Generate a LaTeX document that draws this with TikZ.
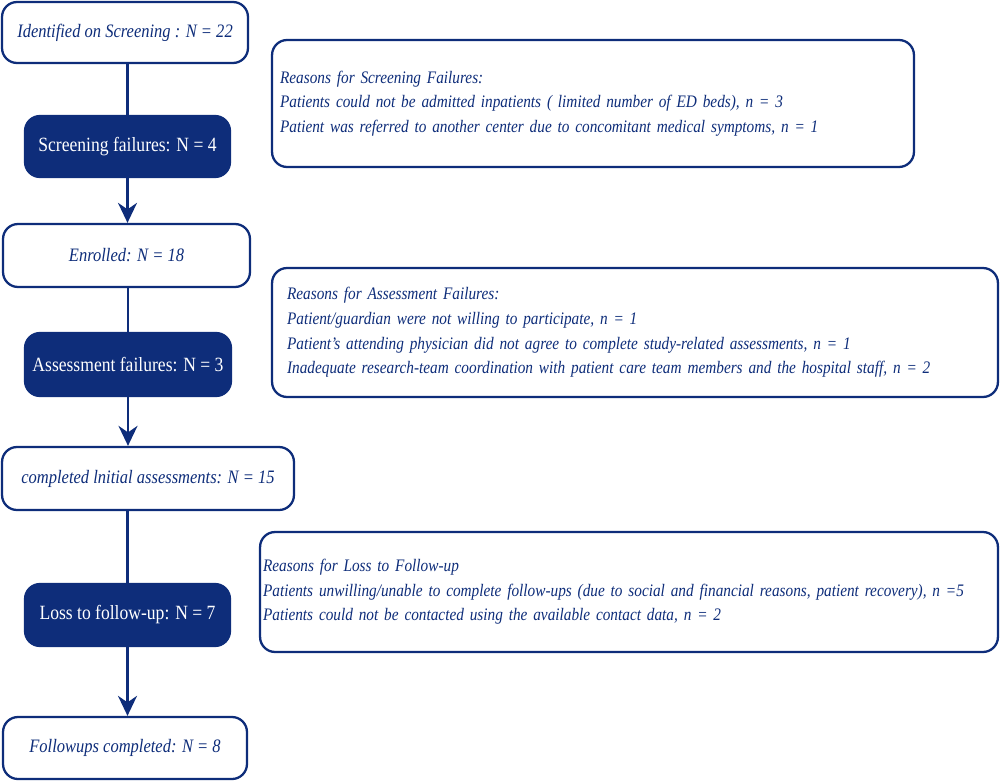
\documentclass[tikz,border=0pt]{standalone}
\usepackage{fontspec}
\setmainfont{Liberation Serif}[FakeStretch=0.87]
\usetikzlibrary{arrows.meta,positioning,calc}
\definecolor{Navy}{RGB}{14,45,122}
\tikzset{
  stagebox/.style={draw=Navy,line width=1.3pt,rounded corners=0.3cm,fill=white,text=Navy,font=\itshape\fontsize{10.8}{14}\selectfont,inner sep=0pt},
  failbox/.style={draw=Navy,line width=1.3pt,rounded corners=0.3cm,fill=Navy,text=white,font=\fontsize{11.5}{14}\selectfont,inner sep=0pt},
  reasonbox/.style={draw=Navy,line width=1.3pt,rounded corners=0.3cm,fill=white,text=Navy,font=\itshape\fontsize{10}{14}\selectfont,align=left,inner ysep=0pt},
  flowline/.style={draw=Navy,line width=1.4pt},
  flowarrow/.style={-{Stealth[length=0.4cm,width=0.38cm]},draw=Navy,line width=1.4pt}
}

\begin{document}
\begin{tikzpicture}[x=0.02cm,y=-0.02cm]
\useasboundingbox (0,0) rectangle (1000,781);

\node[stagebox,minimum width=4.92cm,minimum height=1.22cm] (ident) at (125,32.5) {Identified on Screening : N = 22};
\node[failbox,minimum width=4.1cm,minimum height=1.22cm] (sfail) at (127.5,146.5) {Screening failures: N = 4};
\node[stagebox,minimum width=4.94cm,minimum height=1.26cm] (enrolled) at (126.5,255.5) {Enrolled: N = 18};
\node[failbox,minimum width=4.12cm,minimum height=1.26cm] (afail) at (128,364.5) {Assessment failures: N = 3};
\node[stagebox,minimum width=5.84cm,minimum height=1.26cm] (completed) at (148,478.5) {completed lnitial assessments: N = 15};
\node[failbox,minimum width=4.1cm,minimum height=1.24cm] (lfail) at (127.5,615) {Loss to follow-up: N = 7};
\node[stagebox,minimum width=4.88cm,minimum height=1.24cm] (followed) at (125,748) {Followups completed: N = 8};

\draw[flowline](sfail.north |- ident.south)--(sfail.north);\draw[flowarrow](sfail.south)--(sfail.south |- enrolled.north);
\draw[flowline](afail.north |- enrolled.south)--(afail.north);\draw[flowarrow](afail.south)--(afail.south |- completed.north);
\draw[flowline](lfail.north |- completed.south)--(lfail.north);\draw[flowarrow](lfail.south)--(lfail.south |- followed.north);

\node[reasonbox,minimum width=12.84cm,minimum height=2.54cm,text width=12.52cm,inner xsep=0.16cm] (sreasons) at (593,103.5) {Reasons for Screening Failures:\\
Patients could not be admitted inpatients ( limited number of ED beds), n = 3\\
Patient was referred to another center due to concomitant medical symptoms, n = 1};
\node[reasonbox,minimum width=14.52cm,minimum height=2.58cm,text width=13.92cm,inner xsep=0.3cm] (areasons) at (635,332.5) {Reasons for Assessment Failures:\\
Patient/guardian were not willing to participate, n = 1\\
Patient's attending physician did not agree to complete study-related assessments, n = 1\\
Inadequate research-team coordination with patient care team members and the hospital staff, n = 2};
\node[reasonbox,minimum width=14.76cm,minimum height=2.4cm,text width=14.64cm,inner xsep=0.06cm] (lreasons) at (629,592) {Reasons for Loss to Follow-up\\
\mbox{Patients unwilling/unable to complete follow-ups (due to social and financial reasons, patient recovery), n =5}\\
Patients could not be contacted using the available contact data, n = 2};
\end{tikzpicture}
\end{document}
